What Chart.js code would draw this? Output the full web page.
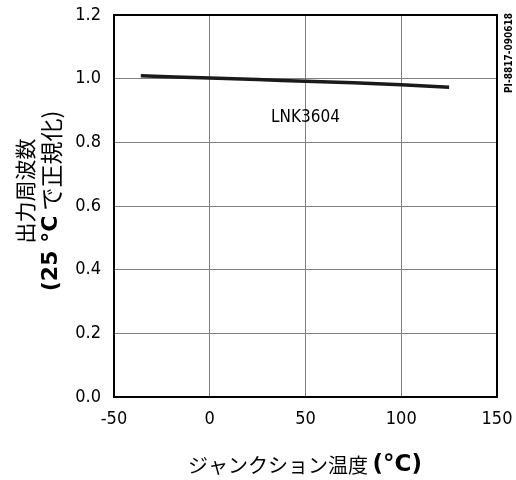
<!DOCTYPE html>
<html>
<head>
<meta charset="utf-8">
<title>LNK3604</title>
<script src="https://cdn.jsdelivr.net/npm/chart.js@4.4.1/dist/chart.umd.min.js"></script>
<style>
  html, body { margin: 0; padding: 0; background: #fff; }
  #wrap { width: 516px; height: 480px; }
</style>
</head>
<body>
<div id="wrap"><canvas id="graph1" width="516" height="480"></canvas></div>
<script>
// data
const temps = [-36, 0, 25, 50, 75, 100, 125];
const freqNorm = [1.009, 1.002, 0.997, 0.992, 0.987, 0.981, 0.973];
const seriesName = 'LNK3604';
const labelAt = [50, 0.878];
const xTicks = [-50, 0, 50, 100, 150];
const yTicks = [0.0, 0.2, 0.4, 0.6, 0.8, 1.0, 1.2];
const docId = 'PI-8817-090618';

const tickFont = { family: 'DejaVu Sans Condensed', size: 18 };

// draw a run of [text, font] pieces centred on (0,0)
function drawRuns(ctx, runs) {
    let total = 0;
    runs.forEach(r => { ctx.font = r[1]; total += ctx.measureText(r[0]).width; });
    let x = -total / 2;
    ctx.textAlign = 'left';
    runs.forEach(r => {
        ctx.font = r[1];
        ctx.fillText(r[0], x, 0);
        x += ctx.measureText(r[0]).width;
    });
}

const extras = {
    id: 'extras',
    afterDatasetsDraw(chart) {
        const ctx = chart.ctx, a = chart.chartArea;
        const xs = chart.scales.x, ys = chart.scales.y;
        ctx.save();
        // frame
        ctx.strokeStyle = '#000';
        ctx.lineWidth = 2;
        ctx.strokeRect(a.left, a.top, a.right - a.left, a.bottom - a.top);
        ctx.fillStyle = '#000';
        ctx.textBaseline = 'middle';
        // series label
        ctx.font = '17px "DejaVu Sans Condensed"';
        ctx.textAlign = 'center';
        ctx.fillText(seriesName, xs.getPixelForValue(labelAt[0]), ys.getPixelForValue(labelAt[1]));
        // x title
        ctx.save();
        ctx.translate(305, 465);
        drawRuns(ctx, [['ジャンクション温度 ', '20px "Noto Sans CJK JP"'], ['(°C)', 'bold 23px "DejaVu Sans"']]);
        ctx.restore();
        // y title, two lines
        ctx.save();
        ctx.translate(25, 191);
        ctx.rotate(-Math.PI / 2);
        drawRuns(ctx, [['出力周波数', '21px "Noto Sans CJK JP"']]);
        ctx.restore();
        ctx.save();
        ctx.translate(51, 201);
        ctx.rotate(-Math.PI / 2);
        drawRuns(ctx, [['(25 °C', 'bold 22px "DejaVu Sans"'], [' で正規化)', '23px "Noto Sans CJK JP"']]);
        ctx.restore();
        // doc id on right edge
        ctx.save();
        ctx.translate(509, 53);
        ctx.rotate(-Math.PI / 2);
        ctx.textAlign = 'center';
        ctx.font = 'bold 10px "DejaVu Sans Condensed"';
        ctx.fillText(docId, 0, 0);
        ctx.restore();
        ctx.restore();
    }
};

new Chart('graph1', {
    type: 'line',
    data: {
        datasets: [{
            data: temps.map((t, i) => ({ x: t, y: freqNorm[i] })),
            borderColor: '#1a1a1a',
            borderWidth: 3.5,
            pointRadius: 0,
            tension: 0.3,
            fill: false
        }]
    },
    options: {
        responsive: false,
        animation: false,
        layout: { padding: { top: 15, right: 19, left: 4, bottom: 4 } },
        plugins: { legend: { display: false }, tooltip: { enabled: false } },
        scales: {
            x: {
                type: 'linear',
                min: -50, max: 150,
                afterBuildTicks: s => { s.ticks = xTicks.map(v => ({ value: v })); },
                afterFit: s => { s.height = 79; s.paddingLeft = 0; s.paddingRight = 0; },
                ticks: { color: '#000', font: tickFont, padding: 12, maxRotation: 0 },
                grid: { color: '#808080', lineWidth: 1, drawTicks: false },
                border: { color: '#000', width: 2 }
            },
            y: {
                min: 0, max: 1.2,
                afterBuildTicks: s => { s.ticks = yTicks.map(v => ({ value: v })); },
                afterFit: s => { s.width = 110; s.paddingTop = 0; s.paddingBottom = 0; },
                ticks: { color: '#000', font: tickFont, padding: 13, callback: v => v.toFixed(1) },
                grid: { color: '#808080', lineWidth: 1, drawTicks: false },
                border: { color: '#000', width: 2 }
            }
        }
    },
    plugins: [extras]
});
</script>
</body>
</html>
